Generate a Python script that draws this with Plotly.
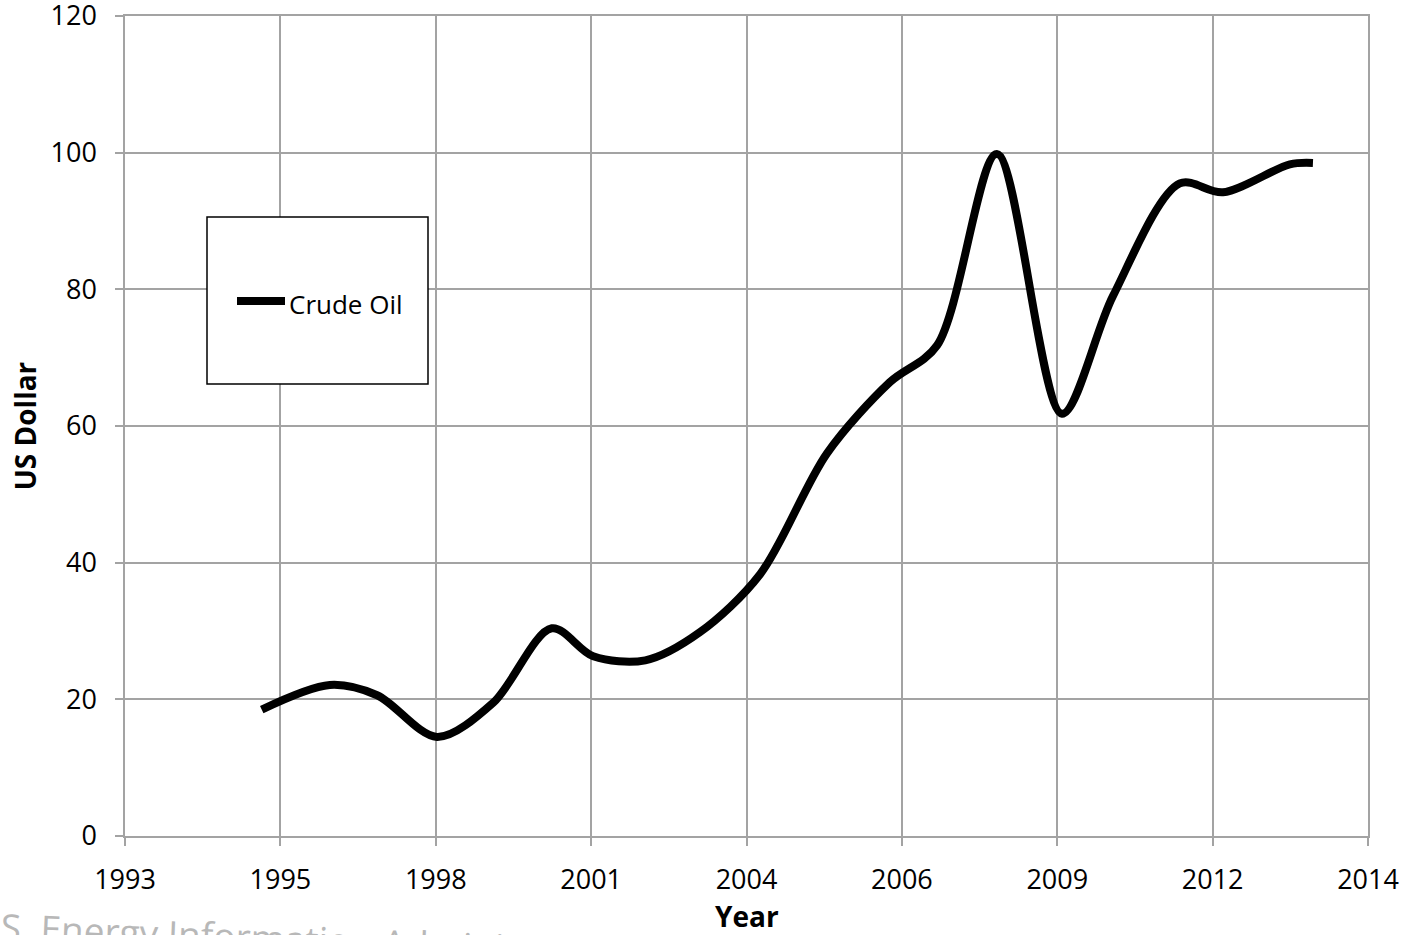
import numpy as np
import plotly.graph_objects as go

# Crude oil price (US$) at each sampled point in time
years = [1995.31, 1996.46, 1997.26, 1998.27, 1999.22, 2000.21, 2000.91, 2001.79,
         2002.71, 2003.73, 2004.86, 2005.92, 2006.72, 2007.73, 2008.83, 2009.69,
         2010.82, 2011.55, 2012.68, 2013.07]
price = [18.5, 22.1, 20.6, 14.5, 19.5, 30.4, 26.3, 25.7,
         29.8, 38.3, 56.0, 66.4, 71.8, 99.8, 61.8, 79.0,
         95.5, 94.2, 98.3, 98.5]

x_tick_labels = ["1993", "1995", "1998", "2001", "2004", "2006", "2009", "2012", "2014"]
x_min, x_max = 1993, 2014
y_ticks = [0, 20, 40, 60, 80, 100, 120]

W, H = 1404, 935
L, R, T, B = 125, 36, 16, 99
PW, PH = W - L - R, H - T - B

def px(p):
    return (p - L) / PW

def py(p):
    return (H - B - p) / PH

GRID = "#a3a3a3"
FONT = "Open Sans"

fig = go.Figure()
fig.add_trace(go.Scatter(
    x=years, y=price, mode="lines", name="Crude Oil",
    line=dict(color="black", width=8, shape="spline", smoothing=0.9),
    showlegend=False,
))

fig.update_xaxes(
    range=[x_min, x_max], automargin=False,
    tickvals=list(np.linspace(x_min, x_max, len(x_tick_labels))),
    ticktext=x_tick_labels,
    showgrid=True, gridcolor=GRID, gridwidth=1.5,
    showline=True, linecolor=GRID, linewidth=1.5, mirror=True,
    ticks="outside", ticklen=8, tickcolor=GRID, tickwidth=1.5,
    zeroline=False, ticklabeloverflow="allow",
    tickfont=dict(family=FONT, size=27, color="black"),
    ticklabelstandoff=11,
)
fig.update_yaxes(
    range=[0, 120], tickvals=y_ticks, automargin=False,
    showgrid=True, gridcolor=GRID, gridwidth=1.5,
    showline=True, linecolor=GRID, linewidth=1.5, mirror=True,
    ticks="outside", ticklen=8, tickcolor=GRID, tickwidth=1.5,
    zeroline=False, ticklabeloverflow="allow",
    tickfont=dict(family=FONT, size=27, color="black"),
    ticklabelstandoff=13,
    title=dict(text="<b>US Dollar</b>", font=dict(family=FONT, size=28, color="black"), standoff=6),
)

# x-axis title
fig.add_annotation(text="<b>Year</b>", xref="paper", yref="paper",
                   x=0.5, y=py(916), xanchor="center", yanchor="middle",
                   showarrow=False, font=dict(family=FONT, size=28, color="black"))

# Legend frame, sample line and label
fig.add_shape(type="rect", xref="paper", yref="paper",
              x0=px(207), x1=px(428), y0=py(384), y1=py(217),
              line=dict(color="black", width=1.5), fillcolor="white", layer="above")
fig.add_shape(type="line", xref="paper", yref="paper",
              x0=px(237), x1=px(285), y0=py(301), y1=py(301),
              line=dict(color="black", width=8), layer="above")
fig.add_annotation(text="Crude Oil", xref="paper", yref="paper",
                   x=px(287), y=py(304), xanchor="left", yanchor="middle",
                   showarrow=False, font=dict(family=FONT, size=26, color="black"))

# Source line along the bottom edge
fig.add_annotation(text="U.S. Energy Information Administration", xref="paper", yref="paper",
                   x=px(-39), y=py(939), xanchor="left", yanchor="middle", textangle=2.4,
                   showarrow=False, font=dict(family=FONT, size=37, color="#b8b8b8"))

fig.update_layout(
    width=W, height=H,
    margin=dict(l=L, r=R, t=T, b=B),
    paper_bgcolor="white", plot_bgcolor="white",
    showlegend=False,
)

fig.write_html("out.html")
